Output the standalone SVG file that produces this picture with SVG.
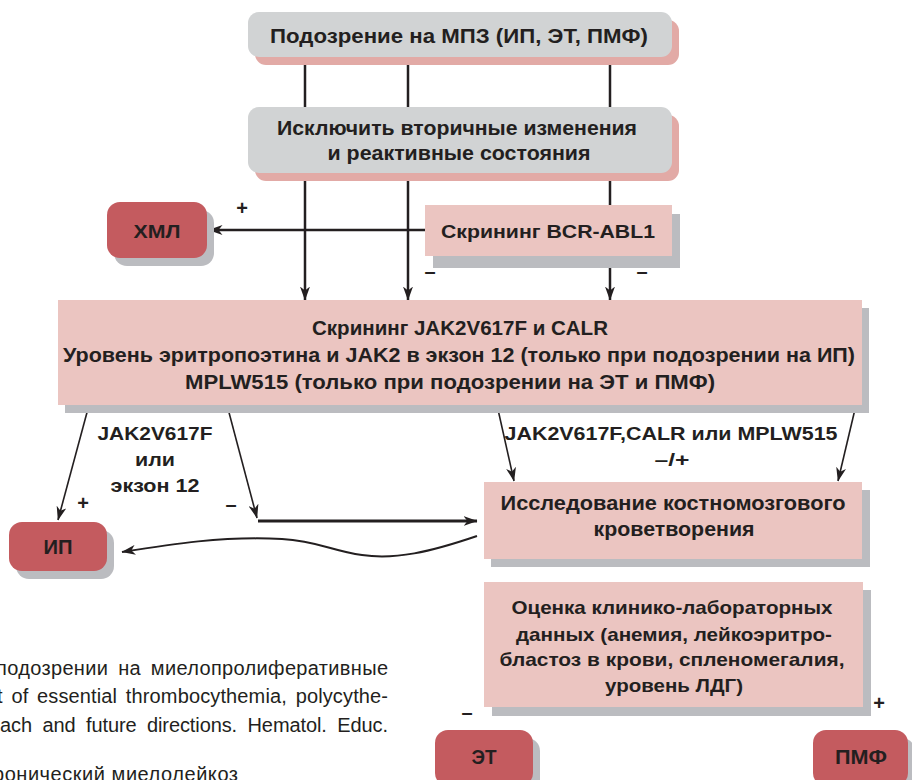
<svg xmlns="http://www.w3.org/2000/svg" width="912" height="780" viewBox="0 0 912 780">
<style>
.t{font-family:"Liberation Sans",Arial,sans-serif;font-weight:bold;fill:#231f20;text-anchor:middle}
.n{font-family:"Liberation Sans Narrow","Liberation Sans",Arial,sans-serif;font-weight:bold;fill:#231f20;text-anchor:middle}
.p{font-family:"Liberation Sans",Arial,sans-serif;fill:#231f20}
.s{font-family:"Liberation Sans",Arial,sans-serif;font-weight:bold;fill:#231f20;text-anchor:middle;font-size:20px}
.gbox{fill:#d1d3d4}
.pshadow{fill:#e2aaa6}
.pbox{fill:#ebc5c1}
.gshadow{fill:#bbbcc0}
.rbox{fill:#c45b5f}
.ln{stroke:#231f20;fill:none}
</style>
<defs>
<marker id="ah" viewBox="0 0 14 10" refX="13.5" refY="5" markerWidth="14" markerHeight="10" orient="auto" markerUnits="userSpaceOnUse">
<path d="M0,0 L14,5 L0,10 L4,5 Z" fill="#231f20"/>
</marker>
</defs>

<g id="connectors">
<line class="ln" x1="305" y1="57" x2="305" y2="107" stroke-width="2.5"/>
<line class="ln" x1="408" y1="57" x2="408" y2="107" stroke-width="2.5"/>
<line class="ln" x1="610" y1="57" x2="610" y2="107" stroke-width="2.5"/>
<line class="ln" x1="305" y1="173" x2="305" y2="300" stroke-width="2.5" marker-end="url(#ah)"/>
<line class="ln" x1="408" y1="173" x2="408" y2="300" stroke-width="2.5" marker-end="url(#ah)"/>
<line class="ln" x1="610" y1="173" x2="610" y2="300" stroke-width="2.5" marker-end="url(#ah)"/>
<line class="ln" x1="425" y1="230" x2="209" y2="230" stroke-width="2.5" marker-end="url(#ah)"/>
<line class="ln" x1="89" y1="405" x2="58" y2="520" stroke-width="1.6" marker-end="url(#ah)"/>
<line class="ln" x1="227" y1="405" x2="257" y2="518" stroke-width="1.6" marker-end="url(#ah)"/>
<line class="ln" x1="258" y1="521" x2="477" y2="521" stroke-width="3" marker-end="url(#ah)"/>
<path class="ln" d="M477,536 C430,552 395,560 362,555 C332,551 318,541 282,539 C222,536 172,544 122,552" stroke-width="2" marker-end="url(#ah)"/>
<line class="ln" x1="497" y1="405" x2="514" y2="481" stroke-width="1.6" marker-end="url(#ah)"/>
<line class="ln" x1="856" y1="405" x2="838" y2="481" stroke-width="1.6" marker-end="url(#ah)"/>
</g>

<g id="n-suspicion">
<rect class="pshadow" x="255" y="20" width="424" height="45" rx="11"/>
<rect class="gbox" x="248" y="12" width="424" height="45" rx="11"/>
<text class="t" x="459" y="43" font-size="20" textLength="378" lengthAdjust="spacingAndGlyphs">Подозрение на МПЗ (ИП, ЭТ, ПМФ)</text>
</g>

<g id="n-exclude">
<rect class="pshadow" x="255" y="115" width="424" height="66" rx="11"/>
<rect class="gbox" x="248" y="107" width="424" height="66" rx="11"/>
<text class="t" x="457" y="135" font-size="20" textLength="360" lengthAdjust="spacingAndGlyphs">Исключить вторичные изменения</text>
<text class="t" x="459" y="160" font-size="20" textLength="263" lengthAdjust="spacingAndGlyphs">и реактивные состояния</text>
</g>

<g id="n-cml">
<rect class="gshadow" x="114" y="210" width="100" height="56" rx="13"/>
<rect class="rbox" x="107" y="202" width="100" height="56" rx="13"/>
<text class="t" x="157" y="238" font-size="19" textLength="47" lengthAdjust="spacingAndGlyphs">ХМЛ</text>
</g>

<g id="n-bcr">
<rect class="gshadow" x="433" y="214" width="247" height="54"/>
<rect class="pbox" x="425" y="205" width="247" height="51"/>
<text class="t" x="548" y="238" font-size="19" textLength="214" lengthAdjust="spacingAndGlyphs">Скрининг BCR-ABL1</text>
</g>

<g id="n-jak">
<rect class="gshadow" x="65" y="308" width="804" height="105"/>
<rect class="pbox" x="58" y="300" width="804" height="105"/>
<text class="n" x="460" y="335" font-size="21" textLength="296" lengthAdjust="spacingAndGlyphs">Скрининг JAK2V617F и CALR</text>
<text class="n" x="459" y="362" font-size="21" textLength="792" lengthAdjust="spacingAndGlyphs">Уровень эритропоэтина и JAK2 в экзон 12 (только при подозрении на ИП)</text>
<text class="n" x="450" y="389" font-size="21" textLength="530" lengthAdjust="spacingAndGlyphs">MPLW515 (только при подозрении на ЭТ и ПМФ)</text>
</g>

<g id="labels">
<text class="s" x="242" y="215">+</text>
<text class="s" x="430" y="278">–</text>
<text class="s" x="642" y="278">–</text>
<text class="t" x="155" y="440" font-size="18" textLength="115" lengthAdjust="spacingAndGlyphs">JAK2V617F</text>
<text class="t" x="155" y="466" font-size="18" textLength="40" lengthAdjust="spacingAndGlyphs">или</text>
<text class="t" x="155" y="492" font-size="18" textLength="89" lengthAdjust="spacingAndGlyphs">экзон 12</text>
<text class="s" x="83" y="510">+</text>
<text class="s" x="231" y="511">–</text>
<text class="t" x="671" y="440" font-size="18" textLength="333" lengthAdjust="spacingAndGlyphs">JAK2V617F,CALR или MPLW515</text>
<text class="t" x="672" y="466" font-size="18" textLength="35" lengthAdjust="spacingAndGlyphs">–/+</text>
<text class="s" x="467" y="719">–</text>
<text class="s" x="879" y="710">+</text>
</g>

<g id="n-bonemarrow">
<rect class="gshadow" x="491" y="490" width="379" height="77"/>
<rect class="pbox" x="484" y="482" width="378" height="77"/>
<text class="t" x="673" y="510" font-size="20" textLength="345" lengthAdjust="spacingAndGlyphs">Исследование костномозгового</text>
<text class="t" x="674" y="536" font-size="20" textLength="161" lengthAdjust="spacingAndGlyphs">кроветворения</text>
</g>

<g id="n-pv">
<rect class="gshadow" x="16" y="530" width="98" height="49" rx="13"/>
<rect class="rbox" x="9" y="522" width="98" height="49" rx="13"/>
<text class="t" x="58" y="554" font-size="20" textLength="29" lengthAdjust="spacingAndGlyphs">ИП</text>
</g>

<g id="n-clinical">
<rect class="gshadow" x="492" y="590" width="379" height="126"/>
<rect class="pbox" x="484" y="582" width="379" height="125"/>
<text class="t" x="672" y="614" font-size="19" textLength="321" lengthAdjust="spacingAndGlyphs">Оценка клинико-лабораторных</text>
<text class="t" x="674" y="641" font-size="19" textLength="316" lengthAdjust="spacingAndGlyphs">данных (анемия, лейкоэритро-</text>
<text class="t" x="672" y="666" font-size="19" textLength="345" lengthAdjust="spacingAndGlyphs">бластоз в  крови, спленомегалия,</text>
<text class="t" x="674" y="692" font-size="19" textLength="138" lengthAdjust="spacingAndGlyphs">уровень ЛДГ)</text>
</g>

<g id="n-et">
<rect class="gshadow" x="442" y="738" width="98" height="56" rx="13"/>
<rect class="rbox" x="435" y="730" width="98" height="56" rx="13"/>
<text class="t" x="484" y="764" font-size="20" textLength="25" lengthAdjust="spacingAndGlyphs">ЭТ</text>
</g>

<g id="n-pmf">
<rect class="gshadow" x="820" y="738" width="95" height="56" rx="13"/>
<rect class="rbox" x="813" y="730" width="95" height="56" rx="13"/>
<text class="t" x="861" y="764" font-size="20" textLength="52" lengthAdjust="spacingAndGlyphs">ПМФ</text>
</g>

<g id="caption">
<text class="p" x="-4" y="675" font-size="20" textLength="392" lengthAdjust="spacing" word-spacing="4">подозрении на миелопролиферативные</text>
<text class="p" x="-3" y="703" font-size="20" textLength="391" lengthAdjust="spacing" word-spacing="3">t of essential thrombocythemia, polycythe-</text>
<text class="p" x="0" y="732" font-size="20" textLength="388" lengthAdjust="spacing" word-spacing="5">ach and future directions. Hematol. Educ.</text>
<text class="p" x="-7" y="781" font-size="20" textLength="245" lengthAdjust="spacing">ронический миелолейкоз</text>
</g>
</svg>
